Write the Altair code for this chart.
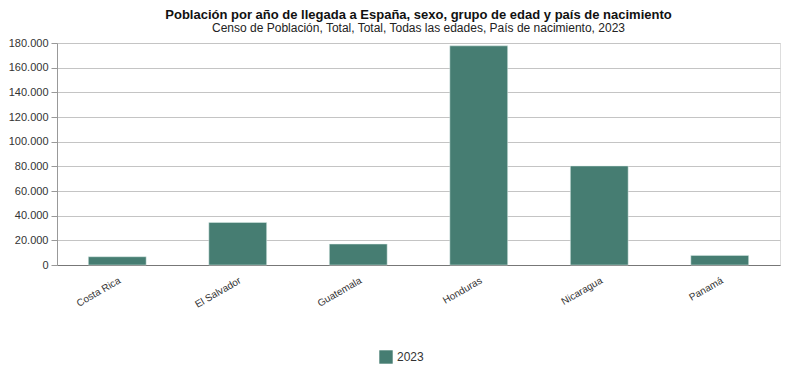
import altair as alt
import pandas as pd

countries = ["Costa Rica", "El Salvador", "Guatemala", "Honduras", "Nicaragua", "Panamá"]
values = [6700, 34500, 17000, 177700, 80300, 7800]
series = ["2023"] * len(countries)

df = pd.DataFrame({"País": countries, "Valor": values, "Año": series})

chart = alt.Chart(df).mark_bar(color="#467d72", stroke="#dfeeea", strokeWidth=0.5).encode(
    x=alt.X("País:N", sort=countries, title=None,
            scale=alt.Scale(paddingInner=0.52, paddingOuter=0.26),
            axis=alt.Axis(labelAngle=-30, labelAlign="right", labelBaseline="top",
                          labelFont="Liberation Sans", labelFontSize=10, labelColor="#333",
                          ticks=False, domainColor="#777", labelPadding=10)),
    y=alt.Y("Valor:Q", title=None,
            scale=alt.Scale(domain=[0, 180000], nice=False),
            axis=alt.Axis(values=list(range(0, 180001, 20000)),
                          labelExpr="replace(format(datum.value, ',d'), ',', '.')",
                          labelFont="Liberation Sans", labelFontSize=11, labelColor="#333",
                          gridColor="#c4c4c4", tickColor="#999", tickSize=6,
                          domain=True, domainColor="#999", labelPadding=3)),
    color=alt.Color("Año:N", scale=alt.Scale(range=["#467d72"]),
                    legend=alt.Legend(orient="none", legendX=322, legendY=307,
                                      direction="horizontal", title=None, symbolType="square",
                                      symbolSize=180, labelFont="Liberation Sans",
                                      labelFontSize=12, labelColor="#333",
                                      symbolStrokeWidth=0)),
).properties(
    width=723,
    height=222,
    title=alt.TitleParams(
        "Población por año de llegada a España, sexo, grupo de edad y país de nacimiento",
        subtitle="Censo de Población, Total, Total, Todas las edades, País de nacimiento, 2023",
        font="Liberation Sans", fontSize=13, fontWeight="bold", color="#111",
        subtitleFont="Liberation Sans", subtitleFontSize=12, subtitleColor="#222",
        anchor="middle", offset=3, subtitlePadding=1),
).configure_view(stroke=None).configure(padding={"left": 0, "top": 1, "right": 5, "bottom": 5})

chart.save("out.html", embed_options={"renderer": "svg", "actions": False})
